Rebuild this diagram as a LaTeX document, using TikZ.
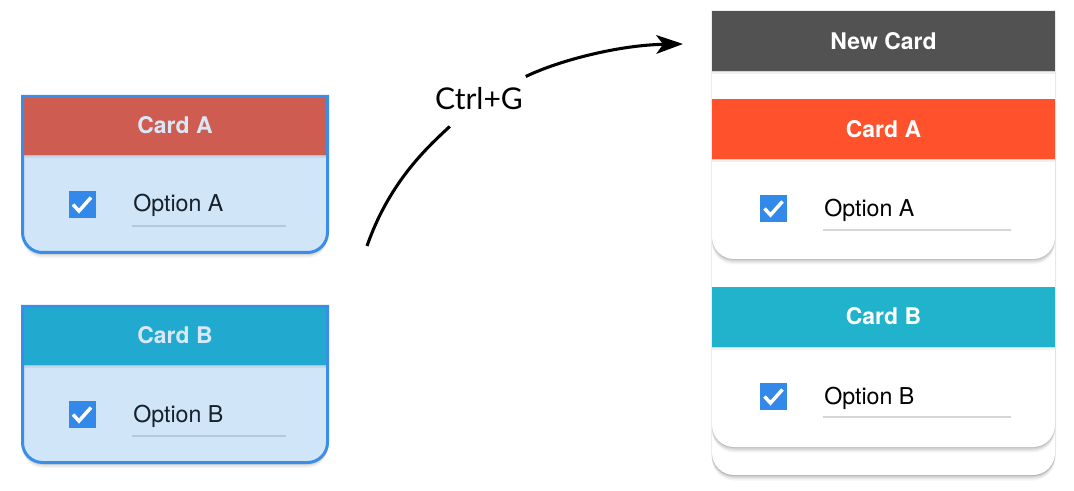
\documentclass[tikz,border=0pt]{standalone}
\usepackage{fontspec}
\setmainfont{TeX Gyre Heros}
\newfontfamily\latofont{Lato}
\usetikzlibrary{arrows.meta}

\definecolor{bordblue}{HTML}{3A8EE8}
\definecolor{boxblue}{HTML}{3389EA}
\definecolor{lightbody}{HTML}{D1E5F9}
\definecolor{redmuted}{HTML}{CF5C51}
\definecolor{cyanmuted}{HTML}{22A9D0}
\definecolor{titlelight}{HTML}{D8E8F8}
\definecolor{redbright}{HTML}{FE512C}
\definecolor{cyanbright}{HTML}{22B3CC}
\definecolor{darkhead}{HTML}{525252}
\definecolor{lineleft}{HTML}{B5C7DB}
\definecolor{lineright}{HTML}{D6D6D6}
\definecolor{optdark}{HTML}{17212C}

% card outline: square top corners, rounded bottom corners (px coordinates, y downward)
\newcommand\cardpath[5]{(#1,#2) -- (#3,#2) -- (#3,{#4-#5}) arc[start angle=0,end angle=90,radius=#5] -- ({#1+#5},#4) arc[start angle=90,end angle=180,radius=#5] -- cycle}

\tikzset{
  cardtitle/.style={font=\bfseries\fontsize{17.2}{19}\selectfont, anchor=base, inner sep=0pt},
  optiontext/.style={font=\fontsize{17.4}{19}\selectfont, anchor=base west, inner sep=0pt},
  checkbox/.style={fill=boxblue, minimum size=20.25pt, inner sep=0pt, draw=none},
  checkmark/.style={draw=white, line width=2.6pt},
  underl/.style={line width=1pt},
  leftborder/.style={draw=bordblue, line width=2.25pt},
  arrowline/.style={draw=black, line width=2.3pt},
  keylabel/.style={font=\latofont\fontsize{22.5}{24}\selectfont, inner xsep=2pt, inner ysep=12pt},
}

\begin{document}
\begin{tikzpicture}[x=0.75pt, y=-0.75pt]
\useasboundingbox (0,0) rectangle (1074,491);

% ---------------- left card A ----------------
\foreach \s/\o in {1/0.10,2.5/0.08,4/0.06,5.5/0.04}
  \fill[black, opacity=\o, shift={(0,\s)}] \cardpath{22.5}{96.5}{327.5}{252.5}{20};
\fill[lightbody] \cardpath{22.5}{96.5}{327.5}{252.5}{20};
\fill[redmuted] (22.5,96.5) rectangle (327.5,155);
\fill[black, opacity=0.10] (22.5,155) rectangle (327.5,156.5);
\fill[black, opacity=0.06] (22.5,155) rectangle (327.5,158.5);
\draw[leftborder] \cardpath{22.5}{96.5}{327.5}{252.5}{20};
\node[cardtitle, text=titlelight] (lAt) at (175,134) {Card A};
\node[checkbox] (lAc) at (82,204.5) {};
\draw[checkmark] ([shift={(-9,0)}]lAc.center) -- ([shift={(-3,6.5)}]lAc.center) -- ([shift={(9,-7)}]lAc.center);
\node[optiontext, text=optdark] (lAo) at (133,212) {Option A};
\draw[underl, lineleft] ([shift={(-1,14)}]lAo.base west) -- ++(154,0);

% ---------------- left card B ----------------
\foreach \s/\o in {1/0.10,2.5/0.08,4/0.06,5.5/0.04}
  \fill[black, opacity=\o, shift={(0,\s)}] \cardpath{22.5}{306.5}{327.5}{462.5}{20};
\fill[lightbody] \cardpath{22.5}{306.5}{327.5}{462.5}{20};
\fill[cyanmuted] (22.5,306.5) rectangle (327.5,365);
\fill[black, opacity=0.10] (22.5,365) rectangle (327.5,366.5);
\fill[black, opacity=0.06] (22.5,365) rectangle (327.5,368.5);
\draw[leftborder] \cardpath{22.5}{306.5}{327.5}{462.5}{20};
\node[cardtitle, text=titlelight] (lBt) at (175,344) {Card B};
\node[checkbox] (lBc) at (82,414.5) {};
\draw[checkmark] ([shift={(-9,0)}]lBc.center) -- ([shift={(-3,6.5)}]lBc.center) -- ([shift={(9,-7)}]lBc.center);
\node[optiontext, text=optdark] (lBo) at (133,422) {Option B};
\draw[underl, lineleft] ([shift={(-1,14)}]lBo.base west) -- ++(154,0);

% ---------------- right: new card container ----------------
\foreach \s/\o in {1/0.10,2.5/0.08,4/0.06,5.5/0.04}
  \fill[black, opacity=\o, shift={(0,\s)}] \cardpath{712}{11}{1055}{475}{22};
\draw[black, opacity=0.07, line width=1.5pt] \cardpath{712}{11}{1055}{475}{22};
\fill[white] \cardpath{712}{11}{1055}{475}{22};
\fill[darkhead] (712,11) rectangle (1055,71);
\fill[black, opacity=0.12] (712,71) rectangle (1055,72.5);
\fill[black, opacity=0.06] (712,71) rectangle (1055,74.5);
\node[cardtitle, text=white] (nct) at (883.5,50) {New Card};

% right card A
\foreach \s/\o in {1/0.10,2.5/0.08,4/0.06,5.5/0.04}
  \fill[black, opacity=\o, shift={(0,\s)}] \cardpath{712}{99}{1055}{259}{22};
\fill[white] \cardpath{712}{99}{1055}{259}{22};
\fill[redbright] (712,99) rectangle (1055,159);
\fill[black, opacity=0.10] (712,159) rectangle (1055,160.5);
\fill[black, opacity=0.05] (712,159) rectangle (1055,162.5);
\node[cardtitle, text=white] (rAt) at (883.5,138) {Card A};
\node[checkbox] (rAc) at (773.5,208.5) {};
\draw[checkmark] ([shift={(-9,0)}]rAc.center) -- ([shift={(-3,6.5)}]rAc.center) -- ([shift={(9,-7)}]rAc.center);
\node[optiontext, text=black] (rAo) at (824,217) {Option A};
\draw[underl, lineright] ([shift={(-1,13)}]rAo.base west) -- ++(188,0);

% right card B
\foreach \s/\o in {1/0.10,2.5/0.08,4/0.06,5.5/0.04}
  \fill[black, opacity=\o, shift={(0,\s)}] \cardpath{712}{287}{1055}{447}{22};
\fill[white] \cardpath{712}{287}{1055}{447}{22};
\fill[cyanbright] (712,287) rectangle (1055,347);
\fill[black, opacity=0.10] (712,347) rectangle (1055,348.5);
\fill[black, opacity=0.05] (712,347) rectangle (1055,350.5);
\node[cardtitle, text=white] (rBt) at (883.5,325) {Card B};
\node[checkbox] (rBc) at (773.5,396.5) {};
\draw[checkmark] ([shift={(-9,0)}]rBc.center) -- ([shift={(-3,6.5)}]rBc.center) -- ([shift={(9,-7)}]rBc.center);
\node[optiontext, text=black] (rBo) at (824,404) {Option B};
\draw[underl, lineright] ([shift={(-1,13)}]rBo.base west) -- ++(188,0);

% ---------------- arrow with label ----------------
\coordinate (arrstart) at (367,246);
\coordinate (arrend) at (683,44);
\node[keylabel] (key) at (479,99) {Ctrl+G};
\draw[arrowline] (arrstart) .. controls (390,180) and (430,145) .. (key);
\draw[arrowline, -{Stealth[length=20pt, width=14pt, inset=5pt]}] (key) .. controls (560,60) and (620,45) .. (arrend);
\end{tikzpicture}
\end{document}
